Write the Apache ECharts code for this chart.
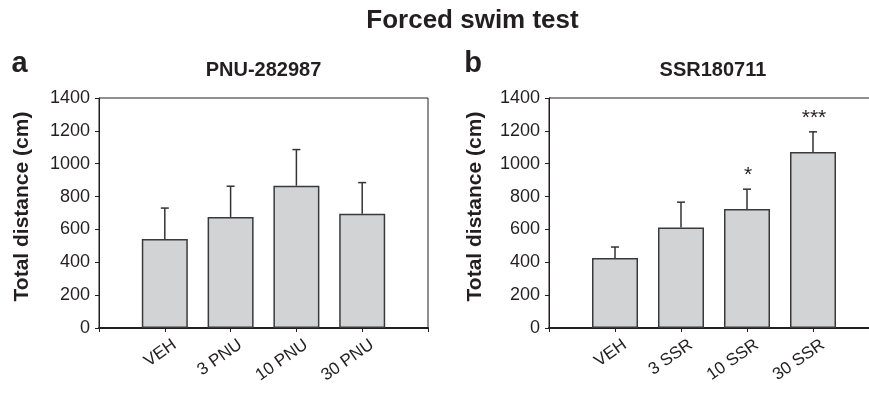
<!DOCTYPE html>
<html>
<head>
<meta charset="utf-8">
<script src="https://cdn.jsdelivr.net/npm/echarts@6/dist/echarts.min.js"></script>
<style>
  html, body { margin: 0; padding: 0; background: #fff; }
  #chart { width: 869px; height: 393px; }
</style>
</head>
<body>
<div id="chart"></div>
<script>
// panel a: PNU-282987
const groupsA = ['VEH', '3 PNU', '10 PNU', '30 PNU']
const meansA = [542, 676, 866, 696]
const semA = [188, 187, 220, 189]
const starsA = ['', '', '', '']

// panel b: SSR180711
const groupsB = ['VEH', '3 SSR', '10 SSR', '30 SSR']
const meansB = [426, 611, 725, 1072]
const semB = [67, 155, 120, 122]
const starsB = ['', '', '*', '***']

const yMin = 0
const yMax = 1400
const yStep = 200

const FONT = '"Liberation Sans", Arial, Helvetica, sans-serif'
const INK = '#231f20'
const BAR_FILL = '#d2d3d5'

// one empty slot on each side so the bars sit on ticks 1..4 of 0..5
const pad = (arr) => ['', ...arr, '']
const padData = (arr) => [null, ...arr, null]

const chart = echarts.init(document.getElementById('chart'))

function makeErrorRender(stars) {
  return (params, api) => {
    const x = api.value(0)
    const base = api.coord([x, api.value(1)])
    const top = api.coord([x, api.value(2)])
    const children = [
      {
        type: 'line',
        shape: { x1: base[0], y1: base[1], x2: top[0], y2: top[1] },
        style: { stroke: '#333', lineWidth: 1.5 },
      },
      {
        type: 'line',
        shape: { x1: top[0] - 4, y1: top[1], x2: top[0] + 4, y2: top[1] },
        style: { stroke: '#333', lineWidth: 1.5 },
      },
    ]
    const star = stars[params.dataIndex]
    if (star) {
      children.push({
        type: 'text',
        x: top[0] + 1,
        y: top[1] - 3,
        style: {
          text: star,
          font: '21px ' + FONT,
          fill: INK,
          align: 'center',
          verticalAlign: 'bottom',
        },
      })
    }
    return { type: 'group', children }
  }
}

const xAxisBase = (groups, gridIndex) => ({
  type: 'category',
  gridIndex,
  data: pad(groups),
  boundaryGap: false,
  axisLine: { lineStyle: { color: INK, width: 2 } },
  axisTick: { show: true, length: 4, lineStyle: { color: INK, width: 1 } },
  axisLabel: {
    interval: 0,
    rotate: 35,
    margin: 22,
    padding: [16, -12, 0, 0],
    color: INK,
    fontSize: 17,
    fontFamily: FONT,
  },
})

const yAxisBase = (gridIndex, nameGap) => ({
  type: 'value',
  gridIndex,
  min: yMin,
  max: yMax,
  interval: yStep,
  name: 'Total distance (cm)',
  nameLocation: 'middle',
  nameGap,
  nameTextStyle: {
    color: INK,
    fontSize: 21,
    fontWeight: 'bold',
    fontFamily: FONT,
    padding: [0, 0, 0, 13],
  },
  axisLine: { show: true, lineStyle: { color: INK, width: 1 } },
  axisTick: { show: true, length: 4, lineStyle: { color: INK } },
  axisLabel: {
    margin: 9,
    color: INK,
    fontSize: 18,
    fontFamily: FONT,
    formatter: (v) => String(v),
  },
  splitLine: { show: false },
})

const barSeries = (means, idx) => ({
  type: 'bar',
  xAxisIndex: idx,
  yAxisIndex: idx,
  data: padData(means),
  barWidth: 46,
  itemStyle: { color: BAR_FILL, borderColor: '#3a3a3a', borderWidth: 1.5 },
  animation: false,
  z: 2,
})

const errSeries = (means, sem, stars, idx) => ({
  type: 'custom',
  xAxisIndex: idx,
  yAxisIndex: idx,
  data: means.map((m, i) => [i + 1, m, m + sem[i]]),
  renderItem: makeErrorRender(stars),
  animation: false,
  z: 3,
})

const titleText = (text, x, y, size) => ({
  type: 'text',
  x,
  y,
  style: {
    text,
    font: 'bold ' + size + 'px ' + FONT,
    fill: INK,
    align: 'center',
    verticalAlign: 'middle',
  },
})

const option = {
  backgroundColor: '#fff',
  animation: false,
  graphic: [
    titleText('Forced swim test', 472.5, 21, 26),
    titleText('PNU-282987', 263.5, 70, 20),
    titleText('SSR180711', 713, 70, 20),
    titleText('a', 19.5, 64, 29),
    titleText('b', 473, 64, 29),
  ],
  grid: [
    {
      left: 99, top: 98, width: 329, height: 230,
      outerBoundsMode: 'none',
      show: true, borderColor: INK, borderWidth: 1,
    },
    {
      left: 549, top: 98, width: 330, height: 230,
      outerBoundsMode: 'none',
      show: true, borderColor: INK, borderWidth: 1,
    },
  ],
  xAxis: [xAxisBase(groupsA, 0), xAxisBase(groupsB, 1)],
  yAxis: [yAxisBase(0, 66), yAxisBase(1, 63)],
  series: [
    barSeries(meansA, 0),
    errSeries(meansA, semA, starsA, 0),
    barSeries(meansB, 1),
    errSeries(meansB, semB, starsB, 1),
  ],
}

chart.setOption(option)
</script>
</body>
</html>
